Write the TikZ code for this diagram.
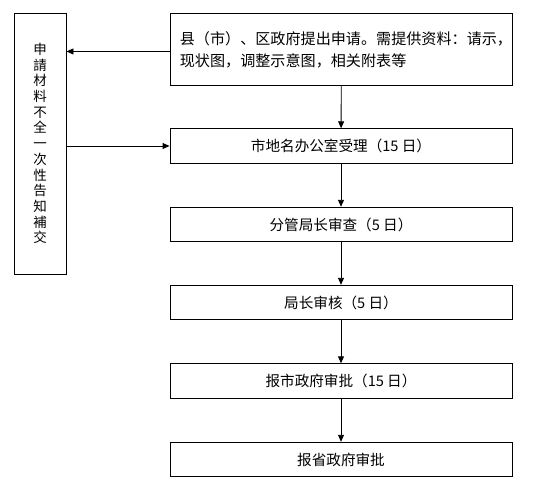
\documentclass[tikz,border=0pt]{standalone}
\usepackage{fontspec}
\setmainfont{Noto Sans CJK SC}
\usetikzlibrary{positioning, arrows.meta}

\begin{document}
\begin{tikzpicture}[
    x=1pt, y=-1pt,
    >={Triangle[length=7pt, width=6pt]}, line width=0.9pt,
    stepbox/.style={draw, rectangle, minimum width=342pt, minimum height=34.5pt, inner sep=0pt, font=\fontsize{14.6}{16}\selectfont},
    notebox/.style={draw, rectangle, minimum width=52pt, minimum height=261pt, inner sep=0pt, text width=16pt, align=center, font=\fontsize{13.5}{15.7}\selectfont}
]

% -------------------------
% Canvas
% -------------------------
\useasboundingbox[fill=white] (0,0) rectangle (535,485);

% -------------------------
% Main Flow (Right Column)
% -------------------------
\node[draw, rectangle, anchor=north west, minimum width=342pt, minimum height=72pt, inner sep=0pt, align=left, font=\fontsize{15.1}{22}\selectfont] (Apply) at (170,13)
    {\hspace*{9pt}县（市）、区政府提出申请。需提供资料：请示，\\\hspace*{9pt}现状图，调整示意图，相关附表等};
\node[stepbox] (Accept) at (341,146) {市地名办公室受理（15 日）};
\node[stepbox] (Review) at (341,224.5) {分管局长审查（5 日）};
\node[stepbox] (Check) at (341,302.5) {局长审核（5 日）};
\node[stepbox] (CityGov) at (341,381) {报市政府审批（15 日）};
\node[stepbox] (ProvGov) at (341,459.5) {报省政府审批};

% -------------------------
% Supplement Box (Left Column)
% -------------------------
\node[notebox] (Supply) at (40,143.5)
    {申\\請\\材\\料\\不\\全\\一\\次\\性\\告\\知\\補\\交};

% -------------------------
% Connectors
% -------------------------
\draw[->] (Apply) -- (Accept);
\draw[->] (Accept) -- (Review);
\draw[->] (Review) -- (Check);
\draw[->] (Check) -- (CityGov);
\draw[->] (CityGov) -- (ProvGov);

% Back to applicant and return
\coordinate (ApplyOut) at ([yshift=-2pt]Apply.west);
\draw[->] (ApplyOut) -- (Supply.east |- ApplyOut);
\draw[->] (Supply.east |- Accept.west) -- (Accept.west);

\end{tikzpicture}
\end{document}
